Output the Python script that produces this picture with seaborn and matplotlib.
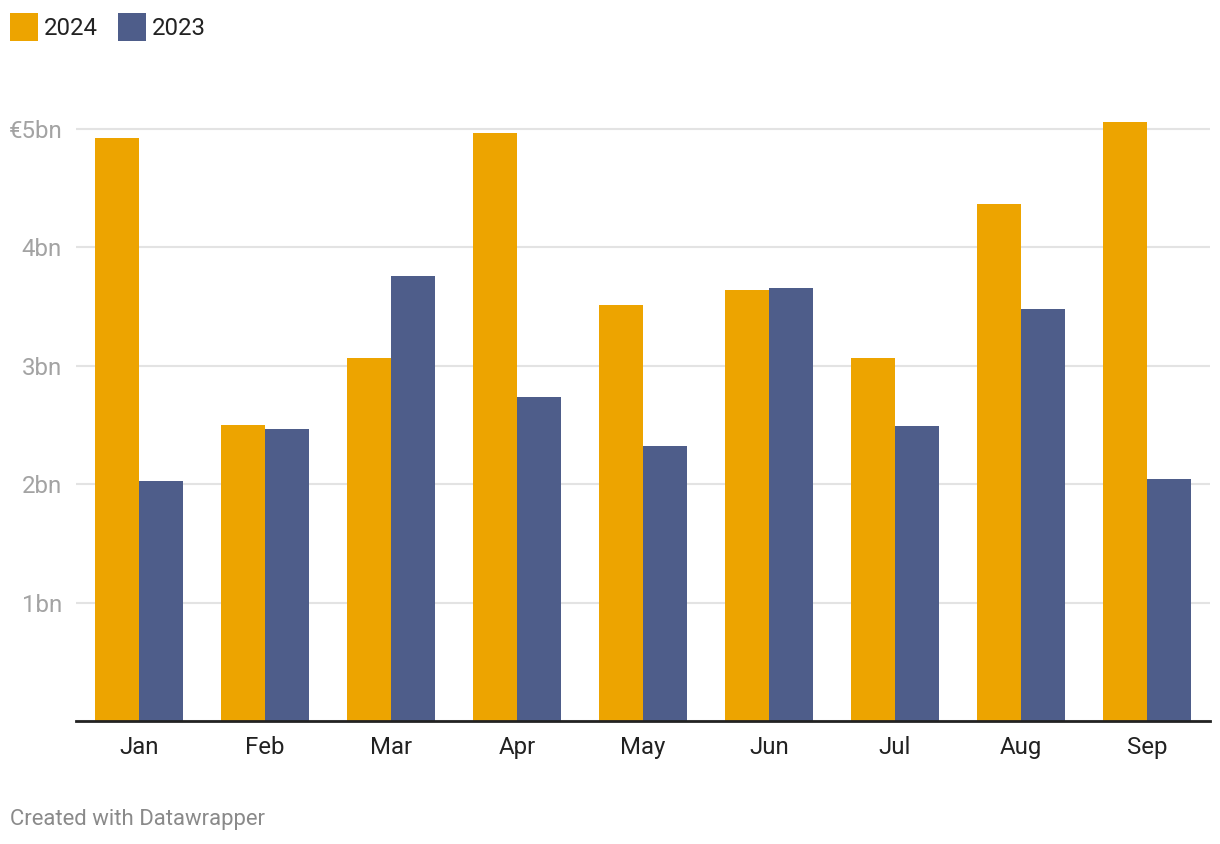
import pandas as pd
import matplotlib.pyplot as plt
import seaborn as sns
from matplotlib.patches import Patch

# data (billions of euros)
months = ['Jan', 'Feb', 'Mar', 'Apr', 'May', 'Jun', 'Jul', 'Aug', 'Sep']
values_2024 = [4.92, 2.50, 3.07, 4.97, 3.51, 3.64, 3.07, 4.37, 5.06]
values_2023 = [2.03, 2.47, 3.76, 2.74, 2.32, 3.66, 2.49, 3.48, 2.04]
years = ['2024', '2023']
colors = {'2024': '#EDA400', '2023': '#4E5D8A'}
y_ticks = [0, 1, 2, 3, 4, 5]
y_tick_labels = ['', '1bn', '2bn', '3bn', '4bn', '€5bn']


def build_frame():
    df = pd.DataFrame({'month': months * 2,
                       'year': ['2024'] * len(months) + ['2023'] * len(months),
                       'value': values_2024 + values_2023})
    return df


def main():
    sns.set_theme(style='white')
    plt.rcParams['font.family'] = ['Roboto', 'DejaVu Sans']

    df = build_frame()
    fig = plt.figure(figsize=(12.2, 8.44), dpi=100)
    ax = fig.add_axes([76 / 1220, 123 / 844, 1134 / 1220, 621 / 844])

    sns.barplot(data=df, x='month', y='value', hue='year', hue_order=years,
                palette=colors, width=0.7, gap=0, saturation=1,
                edgecolor='none', linewidth=0, ax=ax, legend=False)

    ax.set_xlim(-0.5, len(months) - 0.5)
    ax.set_ylim(0, 621 / 118.4)
    ax.set_yticks(y_ticks)
    ax.set_yticklabels(y_tick_labels)
    ax.set_xlabel('')
    ax.set_ylabel('')

    ax.yaxis.grid(True, color='#e3e3e3', linewidth=1.5)
    ax.set_axisbelow(True)
    for side in ['top', 'right', 'left']:
        ax.spines[side].set_visible(False)
    ax.spines['bottom'].set_color('#222222')
    ax.spines['bottom'].set_linewidth(2)

    ax.tick_params(axis='y', length=0, pad=10, labelsize=17.3, labelcolor='#a3a3a3')
    ax.tick_params(axis='x', length=0, pad=10.5, labelsize=17.3, labelcolor='#222222')

    handles = [Patch(facecolor=colors[y], edgecolor='none') for y in years]
    fig.legend(handles, years, loc='upper left', bbox_to_anchor=(0.0, 1 - 3 / 844),
               ncol=2, frameon=False, fontsize=17.3, handlelength=1.17,
               handleheight=1.4, handletextpad=0.25, columnspacing=0.83,
               labelcolor='#222222', borderaxespad=0.02, borderpad=0.4)

    fig.text(10 / 1220, 1 - 820 / 844, 'Created with Datawrapper',
             fontsize=15.9, color='#8a8a8a', va='center', ha='left')

    fig.savefig('out.png', dpi=100)
    plt.close(fig)


if __name__ == '__main__':
    main()
